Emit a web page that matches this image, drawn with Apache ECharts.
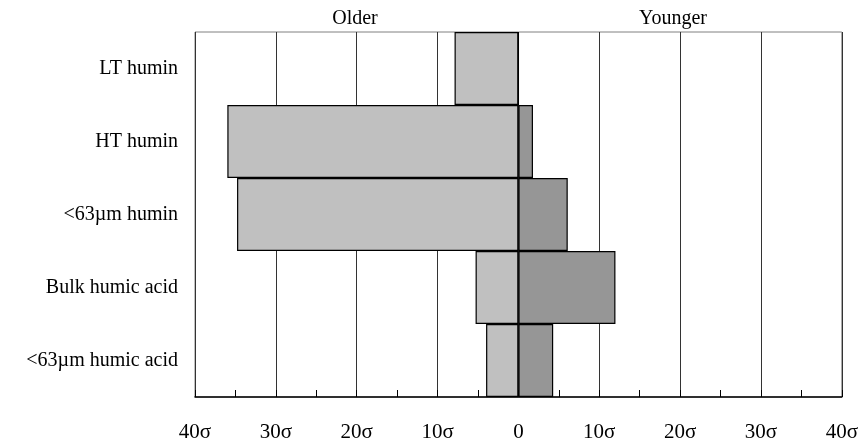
<!DOCTYPE html>
<html><head><meta charset="utf-8">
<script src="https://cdn.jsdelivr.net/npm/echarts@6/dist/echarts.min.js"></script>
<style>html,body{margin:0;padding:0;background:#fff}#c{width:861px;height:447px}</style>
</head><body><div id="c"></div>
<script>
const categories = ['LT humin', 'HT humin', '<63\u00b5m humin', 'Bulk humic acid', '<63\u00b5m humic acid'];
const olderValues = [-7.9, -36.0, -34.8, -5.3, -4.0];
const youngerValues = [0, 1.8, 6.1, 12.0, 4.3];
const topLabels = ['Older', 'Younger'];

const chart = echarts.init(document.getElementById('c'));
const font = 'Liberation Serif';
chart.setOption({
  animation: false,
  backgroundColor: '#fff',
  grid: { left: 195, right: 19, top: 32, bottom: 50, show: true, borderColor: '#808080', borderWidth: 1 },
  xAxis: {
    type: 'value', min: -40, max: 40, interval: 10,
    axisLine: { show: true, onZero: false, lineStyle: { color: '#000', width: 1.5 } },
    axisTick: { show: true, inside: true, length: 7, lineStyle: { color: '#000' } },
    minorTick: { show: true, splitNumber: 2, length: 7, lineStyle: { color: '#000' } },
    splitLine: { show: true, lineStyle: { color: '#333', width: 1 } },
    axisLabel: {
      fontFamily: font, fontSize: 21, color: '#000', margin: 25,
      formatter: v => v === 0 ? '0' : Math.abs(v) + '\u03c3'
    }
  },
  yAxis: {
    type: 'category', data: categories, inverse: true,
    axisLine: { show: false }, axisTick: { show: false },
    axisLabel: { fontFamily: font, fontSize: 20, color: '#000', margin: 17 }
  },
  graphic: [
    { type: 'text', x: 355, y: 19, style: { text: topLabels[0], font: '20px "Liberation Serif"', fill: '#000', align: 'center', verticalAlign: 'middle' } },
    { type: 'text', x: 673, y: 19, style: { text: topLabels[1], font: '20px "Liberation Serif"', fill: '#000', align: 'center', verticalAlign: 'middle' } }
  ],
  series: [
    { type: 'bar', data: olderValues, barCategoryGap: '0%', barGap: '-100%',
      itemStyle: { color: '#c0c0c0', borderColor: '#000', borderWidth: 1.2 } },
    { type: 'bar', data: youngerValues, barCategoryGap: '0%', barGap: '-100%',
      itemStyle: { color: '#969696', borderColor: '#000', borderWidth: 1.2 } }
  ]
});
</script></body></html>
